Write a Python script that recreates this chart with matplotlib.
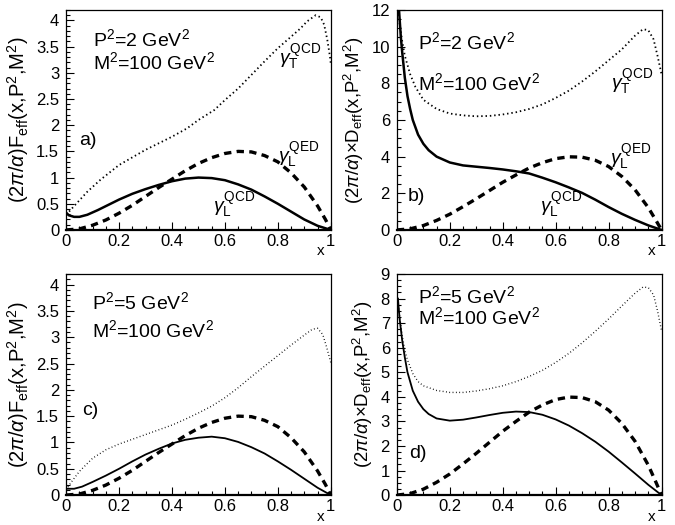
import matplotlib
matplotlib.use("Agg")
import matplotlib.pyplot as plt
from matplotlib.ticker import MultipleLocator, FuncFormatter

plt.rcParams['font.family'] = ['Liberation Sans', 'DejaVu Sans']
plt.rcParams['mathtext.fontset'] = 'custom'
plt.rcParams['mathtext.rm'] = 'Liberation Sans'
plt.rcParams['mathtext.it'] = 'Liberation Sans:italic'
plt.rcParams['mathtext.bf'] = 'Liberation Sans:bold'

# ---------------- data ----------------
# panel a  (P^2 = 2 GeV^2, F_eff)
xa_T = [0.0, 0.04, 0.08, 0.13, 0.2, 0.255, 0.3, 0.4, 0.457, 0.5, 0.56, 0.6, 0.65, 0.7, 0.75,
        0.8, 0.85, 0.886, 0.91, 0.943, 0.962, 0.975, 0.987, 0.997, 1.0]
ya_T = [0.29, 0.51, 0.73, 0.96, 1.24, 1.40, 1.53, 1.78, 1.94, 2.1, 2.29, 2.48, 2.7, 2.96, 3.22,
        3.47, 3.69, 3.85, 3.98, 4.1, 4.06, 3.92, 3.63, 3.31, 3.18]
xa_L = [0.0, 0.01, 0.03, 0.05, 0.08, 0.12, 0.16, 0.2, 0.25, 0.3, 0.35, 0.4, 0.45, 0.5, 0.55,
        0.6, 0.65, 0.7, 0.75, 0.8, 0.85, 0.9, 0.95, 1.0]
ya_L = [0.33, 0.28, 0.25, 0.25, 0.29, 0.38, 0.48, 0.58, 0.69, 0.78, 0.86, 0.93, 0.98, 1.0, 0.99,
        0.95, 0.87, 0.77, 0.64, 0.5, 0.35, 0.2, 0.08, 0.0]
xa_Q = [0.0, 0.05, 0.1, 0.15, 0.2, 0.25, 0.3, 0.35, 0.4, 0.45, 0.5, 0.55, 0.6, 0.65, 0.7,
        0.75, 0.8, 0.85, 0.9, 0.95, 0.98, 1.0]
ya_Q = [0.0, 0.02, 0.09, 0.19, 0.32, 0.47, 0.64, 0.81, 0.97, 1.13, 1.27, 1.38, 1.46, 1.5, 1.49,
        1.42, 1.3, 1.09, 0.82, 0.46, 0.2, 0.0]

# panel b  (P^2 = 2 GeV^2, D_eff)
xb_T = [0.005, 0.01, 0.02, 0.03, 0.05, 0.07, 0.1, 0.15, 0.2, 0.25, 0.3, 0.35, 0.4, 0.45, 0.5,
        0.55, 0.6, 0.65, 0.7, 0.75, 0.8, 0.85, 0.9, 0.93, 0.95, 0.97, 0.985, 1.0]
yb_T = [12.0, 11.3, 10.3, 9.5, 8.5, 7.8, 7.1, 6.6, 6.35, 6.25, 6.2, 6.22, 6.3, 6.42, 6.6,
        6.85, 7.2, 7.6, 8.1, 8.65, 9.25, 9.85, 10.6, 10.95, 10.9, 10.4, 9.5, 8.5]
xb_L = [0.008, 0.015, 0.02, 0.03, 0.04, 0.05, 0.06, 0.08, 0.1, 0.12, 0.15, 0.2, 0.25, 0.3, 0.35,
        0.4, 0.45, 0.5, 0.55, 0.6, 0.65, 0.7, 0.75, 0.8, 0.85, 0.9, 0.95, 1.0]
yb_L = [12.0, 10.5, 9.7, 8.3, 7.3, 6.6, 6.0, 5.2, 4.7, 4.35, 4.0, 3.68, 3.52, 3.45, 3.38,
        3.3, 3.2, 3.08, 2.85, 2.6, 2.32, 2.02, 1.65, 1.25, 0.88, 0.55, 0.25, 0.0]
xb_Q = [0.0, 0.05, 0.1, 0.15, 0.2, 0.25, 0.3, 0.35, 0.4, 0.45, 0.5, 0.55, 0.6, 0.65, 0.7,
        0.75, 0.8, 0.85, 0.9, 0.95, 0.98, 1.0]
yb_Q = [0.0, 0.06, 0.24, 0.52, 0.86, 1.27, 1.7, 2.15, 2.6, 3.0, 3.38, 3.67, 3.89, 3.99, 3.97,
        3.8, 3.46, 2.92, 2.19, 1.22, 0.5, 0.0]

# panel c  (P^2 = 5 GeV^2, F_eff)
xc_T = [0.0, 0.02, 0.05, 0.1, 0.15, 0.2, 0.25, 0.3, 0.35, 0.4, 0.45, 0.5, 0.55, 0.6, 0.65,
        0.7, 0.75, 0.8, 0.85, 0.9, 0.93, 0.95, 0.97, 0.985, 1.0]
yc_T = [0.1, 0.25, 0.45, 0.7, 0.86, 0.97, 1.06, 1.15, 1.24, 1.33, 1.44, 1.56, 1.69, 1.85, 2.04,
        2.25, 2.45, 2.65, 2.85, 3.04, 3.15, 3.17, 3.05, 2.8, 2.52]
xc_L = [0.0, 0.03, 0.06, 0.1, 0.15, 0.2, 0.25, 0.3, 0.35, 0.4, 0.45, 0.5, 0.55, 0.6, 0.65,
        0.7, 0.75, 0.8, 0.85, 0.9, 0.95, 1.0]
yc_L = [0.12, 0.12, 0.16, 0.25, 0.37, 0.5, 0.64, 0.77, 0.88, 0.98, 1.05, 1.09, 1.11, 1.08, 1.01,
        0.91, 0.79, 0.64, 0.48, 0.31, 0.14, 0.0]
xc_Q = xa_Q
yc_Q = ya_Q

# panel d  (P^2 = 5 GeV^2, D_eff)
xd_T = [0.004, 0.01, 0.02, 0.03, 0.04, 0.06, 0.08, 0.1, 0.15, 0.2, 0.25, 0.3, 0.35, 0.4, 0.45,
        0.5, 0.55, 0.6, 0.65, 0.7, 0.75, 0.8, 0.85, 0.9, 0.93, 0.95, 0.97, 0.985, 1.0]
yd_T = [8.0, 7.3, 6.5, 5.9, 5.5, 4.95, 4.62, 4.45, 4.26, 4.18, 4.18, 4.24, 4.33, 4.45, 4.62,
        4.83, 5.08, 5.4, 5.77, 6.2, 6.67, 7.17, 7.7, 8.22, 8.47, 8.45, 8.15, 7.5, 6.7]
xd_L = [0.004, 0.01, 0.02, 0.03, 0.04, 0.06, 0.08, 0.1, 0.12, 0.15, 0.2, 0.25, 0.3, 0.35, 0.4,
        0.45, 0.5, 0.55, 0.6, 0.65, 0.7, 0.75, 0.8, 0.85, 0.9, 0.95, 1.0]
yd_L = [8.0, 7.2, 6.3, 5.6, 5.0, 4.25, 3.8, 3.5, 3.3, 3.12, 3.03, 3.07, 3.16, 3.26, 3.35,
        3.4, 3.38, 3.27, 3.08, 2.83, 2.52, 2.17, 1.77, 1.33, 0.88, 0.42, 0.0]
xd_Q = xb_Q
yd_Q = yb_Q

x_ticks = [0, 0.2, 0.4, 0.6, 0.8, 1.0]

# ---------------- figure ----------------
fig = plt.figure(figsize=(6.75, 5.25), dpi=100)

W = 0.392
axa = fig.add_axes([0.098, 0.562, W, 0.419])
axb = fig.add_axes([0.588, 0.562, W, 0.419])
axc = fig.add_axes([0.098, 0.057, W, 0.421])
axd = fig.add_axes([0.588, 0.057, W, 0.421])

def fmt(v, pos):
    return ('%.1f' % v).rstrip('0').rstrip('.')

def style(ax, ymax, ymaj, ymin, ylabel, ylsize):
    ax.set_xlim(0, 1)
    ax.set_ylim(0, ymax)
    ax.set_xticks(x_ticks)
    ax.xaxis.set_minor_locator(MultipleLocator(0.05))
    ax.yaxis.set_major_locator(MultipleLocator(ymaj))
    ax.yaxis.set_minor_locator(MultipleLocator(ymin))
    ax.xaxis.set_major_formatter(FuncFormatter(fmt))
    ax.yaxis.set_major_formatter(FuncFormatter(fmt))
    ax.tick_params(which='both', direction='in', top=False, right=False,
                   labelsize=12, width=0.8)
    ax.tick_params(which='major', length=6)
    ax.tick_params(which='minor', length=3)
    ax.tick_params(axis='x', which='major', pad=3)
    ax.tick_params(axis='y', which='major', pad=5)
    for s in ax.spines.values():
        s.set_linewidth(0.9)
    ax.spines['bottom'].set_linewidth(1.6)
    ax.set_ylabel(ylabel, fontsize=ylsize, labelpad=4)
    ax.text(0.978, -0.066, 'x', transform=ax.transAxes, ha='right', va='top', fontsize=11)

ylab_F = r'(2$\pi$/$\alpha$)F$_{\rm eff}$(x,P$^2$,M$^2$)'
ylab_D = r'(2$\pi$/$\alpha$)$\times$D$_{\rm eff}$(x,P$^2$,M$^2$)'

style(axa, 4.2, 0.5, 0.1, ylab_F, 14.5)
style(axb, 12, 2, 0.5, ylab_D, 13.4)
style(axc, 4.2, 0.5, 0.1, ylab_F, 14.5)
style(axd, 9, 1, 0.25, ylab_D, 13.4)

dot = dict(color='black', linestyle=(0, (0.8, 1.6)), linewidth=1.3)
thin_dot = dict(color='black', linestyle=(0, (0.6, 1.8)), linewidth=1.0)
dsh = dict(color='black', linestyle=(0, (2.2, 1.6)), linewidth=2.4)

axa.plot(xa_T, ya_T, **dot)
axa.plot(xa_L, ya_L, color='black', linewidth=1.8)
axa.plot(xa_Q, ya_Q, **dsh)

axb.plot(xb_T, yb_T, **dot)
axb.plot(xb_L, yb_L, color='black', linewidth=1.8)
axb.plot(xb_Q, yb_Q, **dsh)

axc.plot(xc_T, yc_T, **thin_dot)
axc.plot(xc_L, yc_L, color='black', linewidth=1.3)
axc.plot(xc_Q, yc_Q, **dsh)

axd.plot(xd_T, yd_T, **thin_dot)
axd.plot(xd_L, yd_L, color='black', linewidth=1.3)
axd.plot(xd_Q, yd_Q, **dsh)

big = 14
# annotations panel a
axa.text(0.1, 3.65, r'P$^2$=2 GeV$^2$', fontsize=big, va='center')
axa.text(0.1, 3.2, r'M$^2$=100 GeV$^2$', fontsize=big, va='center')
axa.text(0.05, 1.7, 'a)', fontsize=big, va='center')
axa.text(0.805, 3.3, r'$\gamma_{\rm T}^{\rm QCD}$', fontsize=big, va='center')
axa.text(0.8, 1.43, r'$\gamma_{\rm L}^{\rm QED}$', fontsize=big, va='center')
axa.text(0.555, 0.46, r'$\gamma_{\rm L}^{\rm QCD}$', fontsize=big, va='center')

# panel b
axb.text(0.08, 10.25, r'P$^2$=2 GeV$^2$', fontsize=big, va='center')
axb.text(0.08, 8.0, r'M$^2$=100 GeV$^2$', fontsize=big, va='center')
axb.text(0.04, 1.8, 'b)', fontsize=big, va='center')
axb.text(0.81, 8.07, r'$\gamma_{\rm T}^{\rm QCD}$', fontsize=big, va='center')
axb.text(0.805, 3.98, r'$\gamma_{\rm L}^{\rm QED}$', fontsize=big, va='center')
axb.text(0.54, 1.36, r'$\gamma_{\rm L}^{\rm QCD}$', fontsize=big, va='center')

# panel c
axc.text(0.098, 3.67, r'P$^2$=5 GeV$^2$', fontsize=big, va='center')
axc.text(0.098, 3.13, r'M$^2$=100 GeV$^2$', fontsize=big, va='center')
axc.text(0.06, 1.6, 'c)', fontsize=big, va='center')

# panel d
axd.text(0.08, 8.1, r'P$^2$=5 GeV$^2$', fontsize=big, va='center')
axd.text(0.08, 7.23, r'M$^2$=100 GeV$^2$', fontsize=big, va='center')
axd.text(0.045, 1.7, 'd)', fontsize=big, va='center')

fig.savefig('out.png', dpi=100)
